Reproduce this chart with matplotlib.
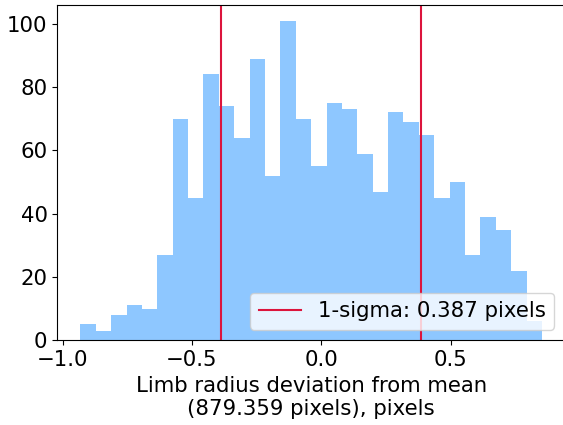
import matplotlib
matplotlib.use("Agg")
import matplotlib.pyplot as plt
from matplotlib.ticker import MultipleLocator
import numpy as np

# histogram of limb radius residuals (30 equal bins)
EDGE_LO = -0.931
EDGE_HI = 0.853
counts = [5, 3, 8, 11, 10, 27, 70, 45, 84, 74,
          64, 89, 52, 101, 70, 55, 75, 73, 59, 47,
          72, 69, 65, 45, 50, 27, 39, 35, 22, 6]
sigma = 0.387
mean_radius = 879.359

FONT_SIZE = 15.3

edges = np.linspace(EDGE_LO, EDGE_HI, len(counts) + 1)
centres = 0.5 * (edges[:-1] + edges[1:])

fig = plt.figure(figsize=(5.63, 4.25), dpi=100)
ax = fig.add_axes([0.1018, 0.1993, 0.9018, 0.7897])

ax.hist(centres, bins=edges, weights=counts, color="dodgerblue", alpha=0.5)
ax.axvline(-sigma, color="crimson", lw=1.5,
           label="1-sigma: %.3f pixels" % sigma)
ax.axvline(sigma, color="crimson", lw=1.5)

ax.xaxis.set_major_locator(MultipleLocator(0.5))
ax.set_xlabel("Limb radius deviation from mean\n(%.3f pixels), pixels" % mean_radius,
              fontsize=FONT_SIZE)
ax.tick_params(labelsize=FONT_SIZE)
# axes runs just past the right edge of the canvas
ax.spines["right"].set_visible(False)
ax.legend(loc="lower right", fontsize=FONT_SIZE)

fig.savefig("out.png", dpi=100)
